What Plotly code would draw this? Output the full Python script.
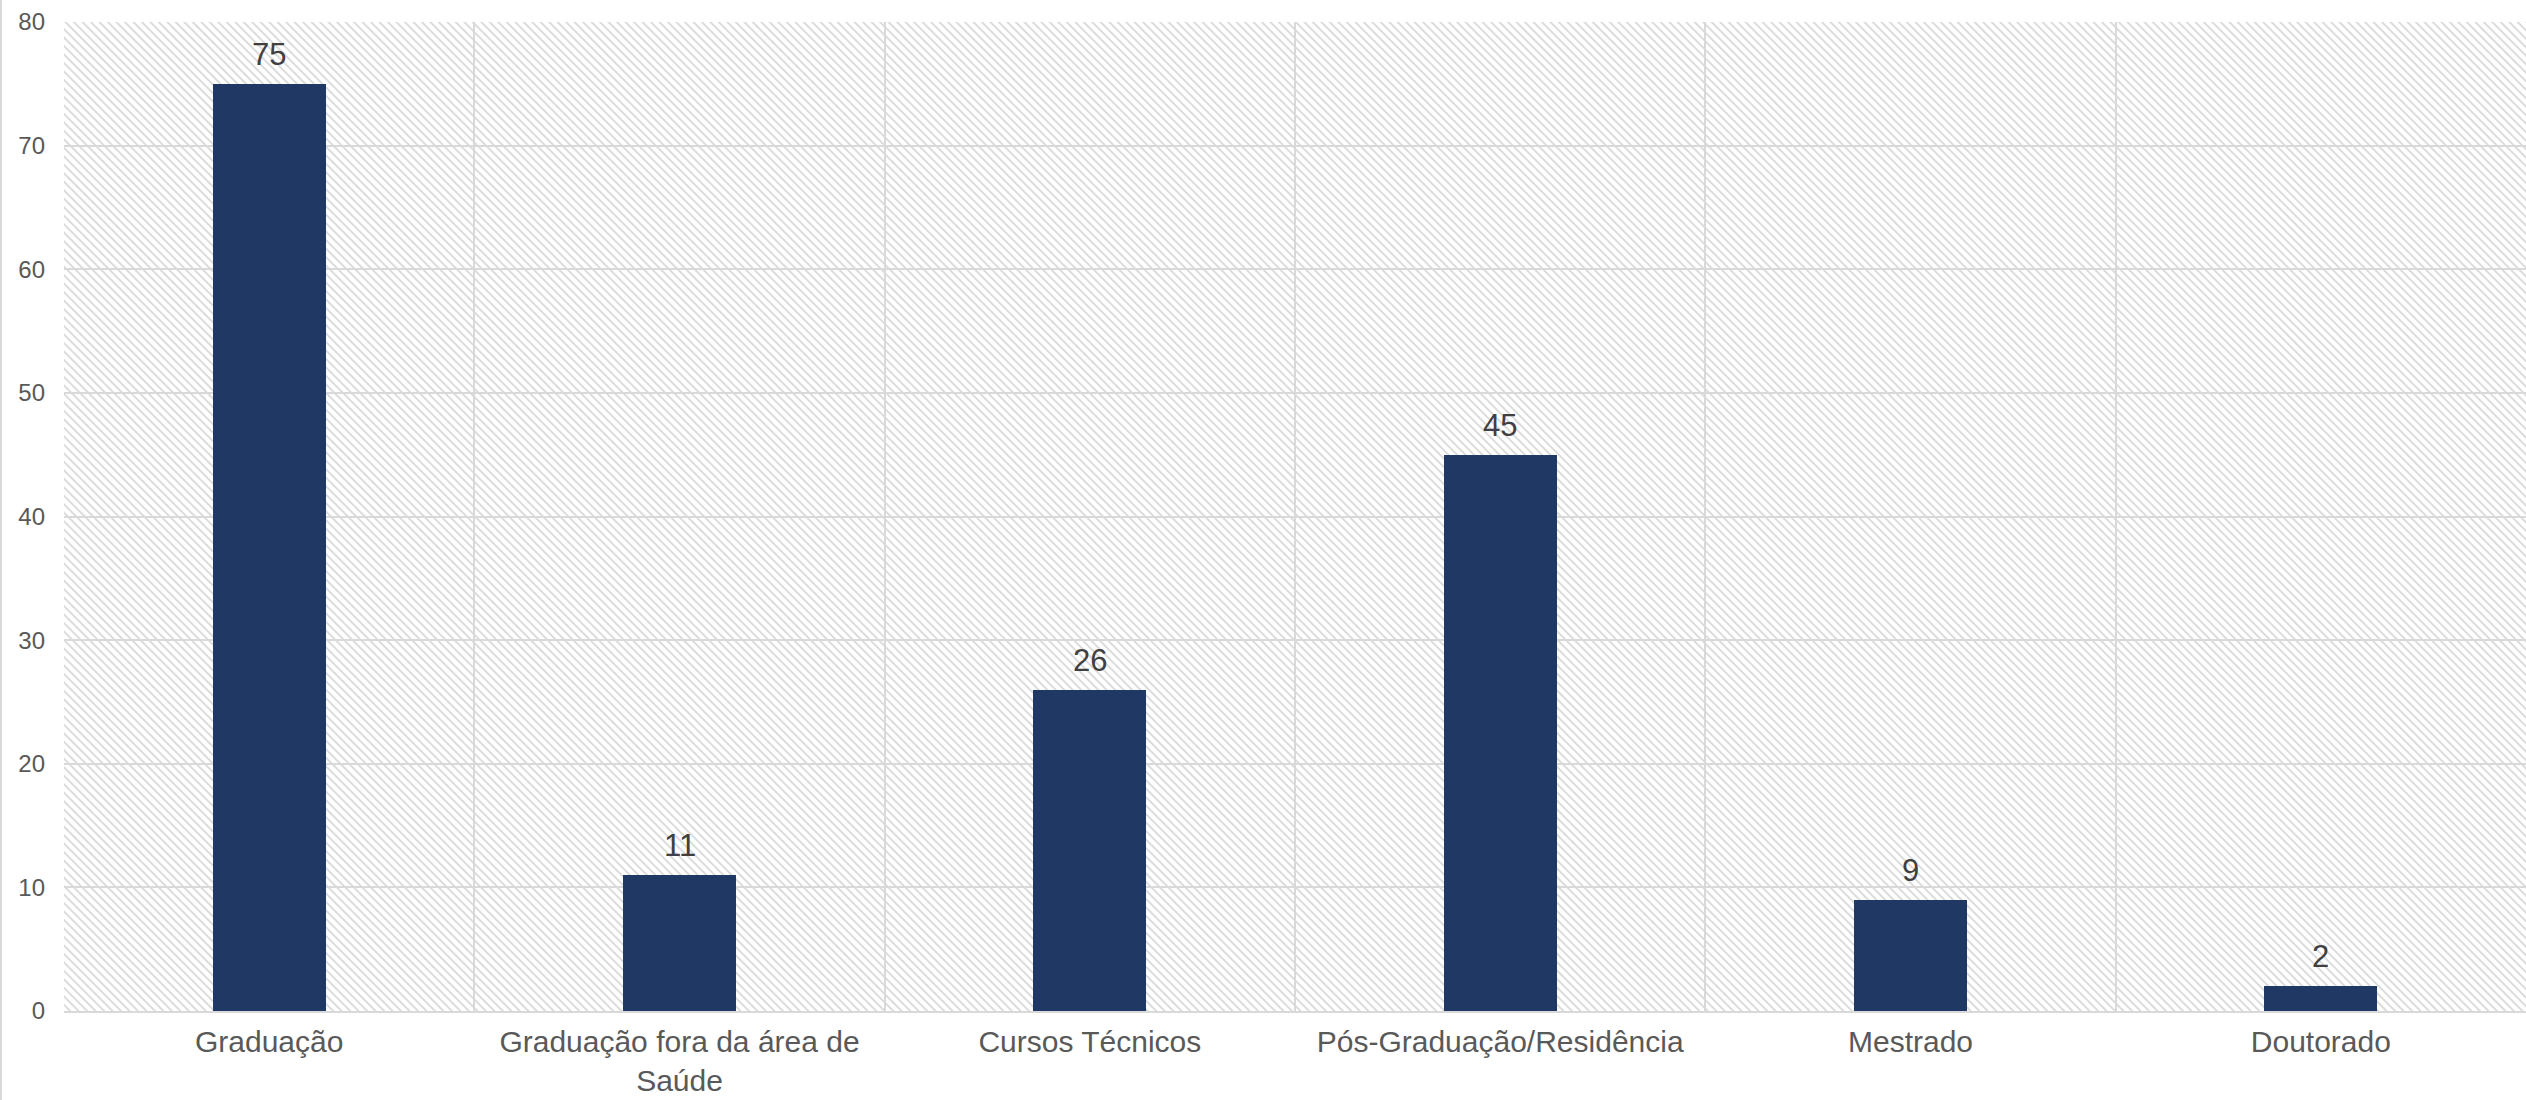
import base64
import plotly.graph_objects as go

categories = ["Graduação", "Graduação fora da área de<br>Saúde", "Cursos Técnicos",
              "Pós-Graduação/Residência", "Mestrado", "Doutorado"]
values = [75, 11, 26, 45, 9, 2]
y_ticks = [0, 10, 20, 30, 40, 50, 60, 70, 80]

W, H = 2526, 1100
ML, MR, MT, MB = 64, 0, 22, 89
PW, PH = W - ML - MR, H - MT - MB

svg = (
    f"<svg xmlns='http://www.w3.org/2000/svg' width='{PW}' height='{PH}'>"
    "<defs><pattern id='p' width='6' height='6' patternUnits='userSpaceOnUse' "
    "patternTransform='rotate(-45)'>"
    "<rect width='6' height='6' fill='#ffffff'/>"
    "<rect x='0' y='0' width='2' height='6' fill='#dcdcdc'/>"
    "</pattern></defs>"
    "<rect width='100%' height='100%' fill='url(#p)'/></svg>"
)
svg_uri = "data:image/svg+xml;base64," + base64.b64encode(svg.encode()).decode()

font = "Liberation Sans, Arial, sans-serif"

fig = go.Figure(
    go.Bar(
        x=categories,
        y=values,
        width=0.275,
        marker=dict(color="#1F3864", line=dict(width=0)),
        hoverinfo="x+y",
    )
)

for c, v in zip(categories, values):
    fig.add_annotation(
        x=c, y=v, text=str(v), showarrow=False, yanchor="bottom", yshift=10,
        font=dict(family=font, size=31, color="#404040"),
    )

fig.add_layout_image(
    dict(source=svg_uri, xref="paper", yref="paper", x=0, y=1, sizex=1, sizey=1,
         sizing="stretch", xanchor="left", yanchor="top", layer="below")
)

# chart area left border
fig.add_shape(type="line", xref="paper", yref="paper",
              x0=(1 - ML) / PW, x1=(1 - ML) / PW,
              y0=(PH + MT) / PH + 0.01, y1=-MB / PH - 0.01,
              line=dict(color="#d9d9d9", width=2))

fig.update_layout(
    width=W, height=H,
    margin=dict(l=ML, r=MR, t=MT, b=MB, pad=0, autoexpand=False),
    paper_bgcolor="white",
    plot_bgcolor="white",
    showlegend=False,
    bargap=0,
    font=dict(family=font, color="#595959"),
)
fig.update_xaxes(
    type="category",
    automargin=False,
    tickson="boundaries",
    showgrid=True, gridcolor="#d9d9d9", gridwidth=2,
    showline=True, linecolor="#d9d9d9", linewidth=2,
    ticks="", ticklabelstandoff=3,
    tickfont=dict(family=font, size=30, color="#595959"),
    range=[-0.5, len(categories) - 0.5],
)
fig.update_yaxes(
    range=[0, 80], tickvals=y_ticks,
    automargin=False,
    showgrid=True, gridcolor="#d9d9d9", gridwidth=2,
    zeroline=False, showline=False,
    ticks="", ticklabelstandoff=18,
    tickfont=dict(family=font, size=24, color="#595959"),
)

fig.write_html(
    "out.html",
    config={"displayModeBar": False},
    post_script="document.body.style.margin='0px';document.body.style.overflow='hidden';",
)
